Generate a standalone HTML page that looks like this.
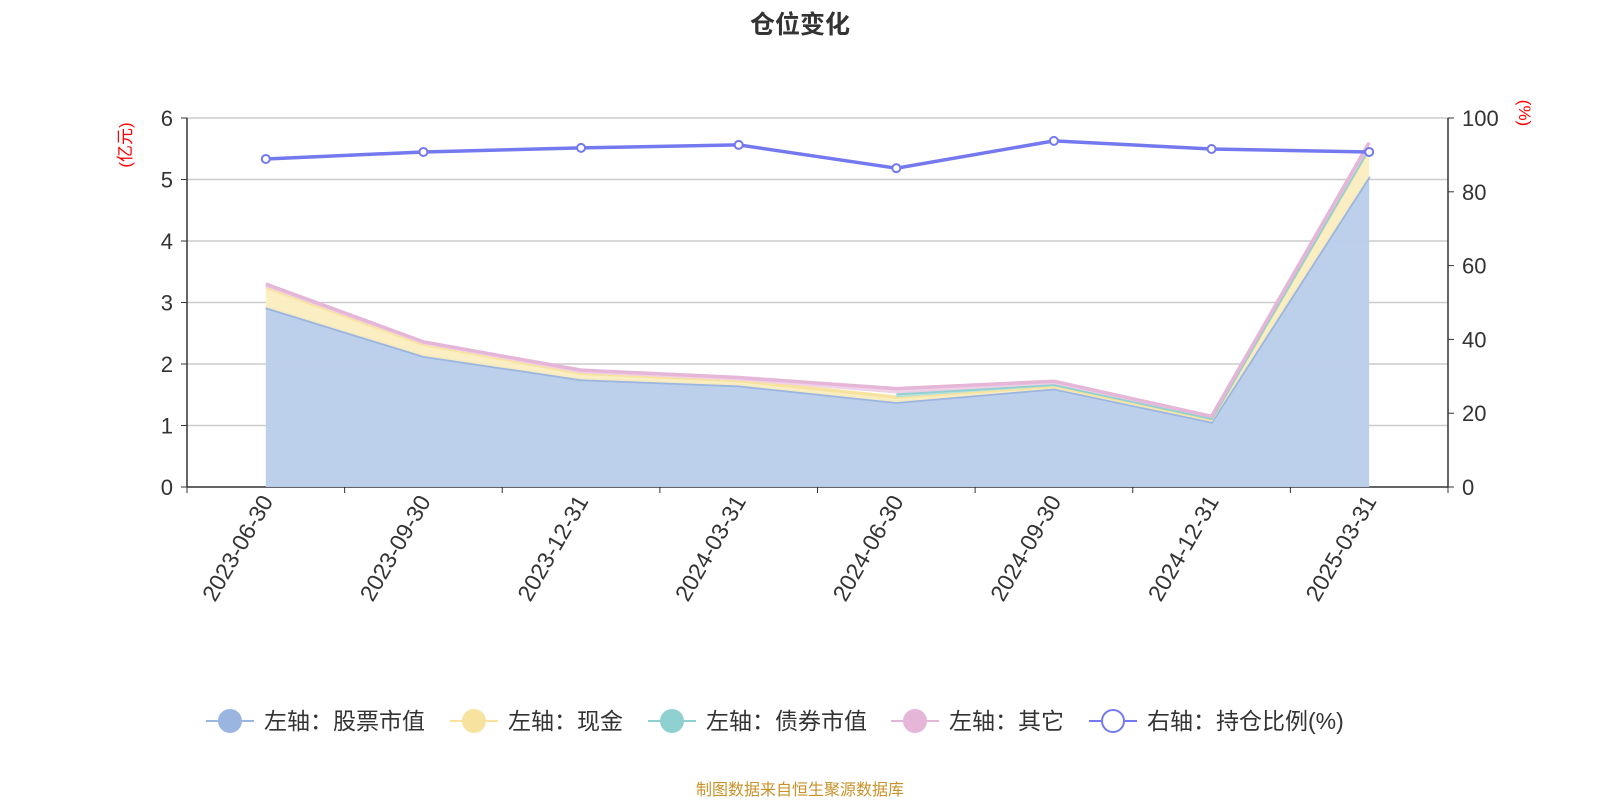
<!DOCTYPE html>
<html><head><meta charset="utf-8"><style>
body{margin:0;background:#fff;font-family:"Liberation Sans","Noto Sans CJK SC",sans-serif}
svg text{font-family:"Liberation Sans","Noto Sans CJK SC",sans-serif}
</style></head><body>
<svg id="c" width="1600" height="800" xmlns="http://www.w3.org/2000/svg">
<text x="800" y="33" text-anchor="middle" font-size="25" font-weight="bold" fill="#333">仓位变化</text>
<text x="800" y="795" text-anchor="middle" font-size="16" fill="#c8922a">制图数据来自恒生聚源数据库</text>
</svg>
<script>
const categories=['2023-06-30','2023-09-30','2023-12-31','2024-03-31','2024-06-30','2024-09-30','2024-12-31','2025-03-31'];
const stockValues=[2.92,2.13,1.75,1.65,1.38,1.60,1.06,5.05];
const cashValues=[0.33,0.19,0.10,0.08,0.08,0.04,0.04,0.45];
const bondValues=[null,null,null,null,0.06,0.03,0.02,0.02];
const otherValues=[0.05,0.04,0.05,0.05,0.08,0.05,0.03,0.08];
const ratioValues=[88.9,90.8,91.9,92.7,86.4,93.8,91.6,90.8];
const leftTicks=[0,1,2,3,4,5,6];
const rightTicks=[0,20,40,60,80,100];
const NS='http://www.w3.org/2000/svg';
const svg=document.getElementById('c');
const X0=187,X1=1448,Y0=487,Y1=118;
const bw=(X1-X0)/categories.length;
const xs=i=>X0+bw*(i+0.5);
const yl=v=>Y0-(v/6)*(Y0-Y1);
const yr=v=>Y0-(v/100)*(Y0-Y1);
function el(t,a,p){const e=document.createElementNS(NS,t);for(const k in a)e.setAttribute(k,a[k]);(p||svg).appendChild(e);return e;}
leftTicks.forEach(v=>{
 const g=el('line',{x1:X0,x2:X1,y1:yl(v),y2:yl(v),stroke:v?'#ccc':'#333','stroke-width':v?1.5:1.5});
 
 
 const t=el('text',{x:X0-14,y:yl(v)+8,'text-anchor':'end','font-size':22,fill:'#333'});t.textContent=v;
 
 
 el('line',{x1:X0-6,x2:X0,y1:yl(v),y2:yl(v),stroke:'#333'});
});
rightTicks.forEach(v=>{
 const t=el('text',{x:X1+14,y:yr(v)+8,'font-size':22,fill:'#333'});t.textContent=v;
 
 
 el('line',{x1:X1,x2:X1+6,y1:yr(v),y2:yr(v),stroke:'#333'});
});
el('line',{x1:X0,x2:X0,y1:Y1,y2:Y0,stroke:'#333','stroke-width':1.5});
el('line',{x1:X1,x2:X1,y1:Y1,y2:Y0,stroke:'#333','stroke-width':1.5});
let t=el('text',{x:0,y:0,'font-size':17,fill:'red',transform:'translate(131,145) rotate(-90)','text-anchor':'middle'});t.textContent='(亿元)';

t=el('text',{x:0,y:0,'font-size':17,fill:'red',transform:'translate(1519,113) rotate(90)','text-anchor':'middle'});t.textContent='(%)';

for(let i=0;i<=categories.length;i++)el('line',{x1:X0+bw*i,x2:X0+bw*i,y1:Y0,y2:Y0+6,stroke:'#333'});
categories.forEach((c,i)=>{
 const t=el('text',{x:0,y:0,'font-size':23,fill:'#333','text-anchor':'end',transform:`translate(${xs(i)+8},${Y0+14}) rotate(-60)`});t.textContent=c;
 
 
});
const series=[[stockValues,'#9ab5e0','#b9cdea','stock'],[cashValues,'#f7e39f','#faedbf','cash'],[bondValues,'#8fd0d0','#b0e0e0','bond'],[otherValues,'#e5b6d8','#efcfe6','other']];
const base=categories.map(()=>0);
series.forEach(([vals,lc,fc,nm])=>{
 const idx=vals.map((v,i)=>v==null?-1:i).filter(i=>i>=0);
 const top=idx.map(i=>base[i]+vals[i]);
 const up=idx.map((i,k)=>[xs(i),yl(top[k])]);
 const down=idx.map(i=>[xs(i),yl(base[i])]).reverse();
 const a=el('polygon',{points:up.concat(down).map(p=>p.join(',')).join(' '),fill:fc,opacity:0.95});
 
 
 const l=el('polyline',{points:up.map(p=>p.join(',')).join(' '),fill:'none',stroke:lc,'stroke-width':3.5});
 
 
 idx.forEach((i,k)=>base[i]=top[k]);
});
const rl=el('polyline',{points:ratioValues.map((v,i)=>xs(i)+','+yr(v)).join(' '),fill:'none',stroke:'#7479ef','stroke-width':3.5});


ratioValues.forEach((v,i)=>{
 const p=el('circle',{cx:xs(i),cy:yr(v),r:4,fill:'#fff',stroke:'#7479ef','stroke-width':2});
 
 
});
const legend=[['左轴：股票市值','#9ab5e0',true,206],['左轴：现金','#f7e39f',true,450],['左轴：债券市值','#8fd0d0',true,648],['左轴：其它','#e5b6d8',true,891],['右轴：持仓比例(%)','#7479ef',false,1089]];
legend.forEach(([txt,c,fill,x])=>{
 const g=el('g',{});
 
 
 el('line',{x1:x,x2:x+48,y1:721,y2:721,stroke:c,'stroke-width':2},g);
 el('circle',{cx:x+24,cy:721,r:fill?11:11,fill:fill?c:'#fff',stroke:c,'stroke-width':2},g);
 const t=el('text',{x:x+58,y:729,'font-size':23,fill:'#333'},g);t.textContent=txt;
});
</script>
</body></html>
